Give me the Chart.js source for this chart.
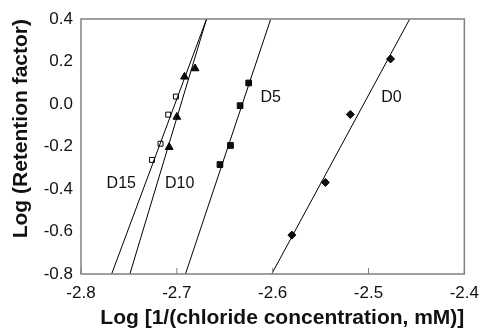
<!DOCTYPE html>
<html>
<head>
    <title>Retention factor vs chloride concentration</title>
    <script src="https://cdn.jsdelivr.net/npm/chart.js@4"></script>
    <style>
        body { margin: 0; background: #fff; }
        #wrap { width: 488px; height: 331px; }
    </style>
</head>
<body>
    <div id="wrap"><canvas id="chart"></canvas></div>
    <script>
        // points
        const d0X = [-2.580, -2.545, -2.519, -2.477];
        const d0Y = [-0.617, -0.369, -0.049, 0.212];
        const d5X = [-2.655, -2.644, -2.634, -2.625];
        const d5Y = [-0.285, -0.195, -0.008, 0.099];
        const d10X = [-2.708, -2.700, -2.692, -2.681];
        const d10Y = [-0.203, -0.061, 0.128, 0.167];
        const d15X = [-2.726, -2.717, -2.709, -2.701];
        const d15Y = [-0.263, -0.187, -0.050, 0.035];

        // fitted lines, ends at bottom and top of the plot
        const fitY = [-0.8, 0.4];
        const d0FitX = [-2.601, -2.457];
        const d5FitX = [-2.691, -2.602];
        const d10FitX = [-2.749, -2.669];
        const d15FitX = [-2.768, -2.669];

        // in-plot labels
        const labelNames = ['D15', 'D10', 'D5', 'D0'];
        const labelX = [-2.758, -2.697, -2.602, -2.476];
        const labelY = [-0.375, -0.375, 0.032, 0.032];

        const xTicks = [-2.8, -2.7, -2.6, -2.5, -2.4];

        function pts(xs, ys) {
            return xs.map((x, i) => ({ x: x, y: ys[i] }));
        }

        function fitSet(xs) {
            return {
                type: 'line',
                data: pts(xs, fitY),
                borderColor: '#000',
                borderWidth: 1,
                pointRadius: 0,
                showLine: true,
                fill: false
            };
        }

        function markSet(xs, ys, style, radius, fill) {
            return {
                type: 'scatter',
                data: pts(xs, ys),
                pointStyle: style,
                pointRadius: radius,
                pointBackgroundColor: fill,
                pointBorderColor: '#000',
                pointBorderWidth: 1
            };
        }

        // frame, inside ticks and the series names
        const extras = {
            id: 'extras',
            afterDraw(chart) {
                const ctx = chart.ctx;
                const a = chart.chartArea;
                const xs = chart.scales.x;
                const ys = chart.scales.y;
                ctx.save();
                ctx.strokeStyle = '#808080';
                ctx.lineWidth = 1.5;
                ctx.strokeRect(a.left, a.top, a.right - a.left, a.bottom - a.top);
                ctx.lineWidth = 1;
                xTicks.forEach(v => {
                    const px = xs.getPixelForValue(v);
                    ctx.beginPath();
                    ctx.moveTo(px, a.bottom);
                    ctx.lineTo(px, a.bottom - 6);
                    ctx.stroke();
                });
                ctx.fillStyle = '#111';
                ctx.font = '16px "Liberation Sans", Arial, sans-serif';
                ctx.textAlign = 'center';
                ctx.textBaseline = 'middle';
                labelNames.forEach((t, i) => {
                    ctx.fillText(t, xs.getPixelForValue(labelX[i]), ys.getPixelForValue(labelY[i]));
                });
                ctx.restore();
            }
        };

        const font = '"Liberation Sans", Arial, sans-serif';

        new Chart(document.getElementById('chart'), {
            data: {
                datasets: [
                    fitSet(d0FitX), fitSet(d5FitX), fitSet(d10FitX), fitSet(d15FitX),
                    markSet(d0X, d0Y, 'rectRot', 4, '#111'),
                    markSet(d5X, d5Y, 'rect', 4, '#111'),
                    markSet(d10X, d10Y, 'triangle', 4.5, '#111'),
                    markSet(d15X, d15Y, 'rect', 3.5, '#fff')
                ]
            },
            options: {
                responsive: true,
                maintainAspectRatio: false,
                animation: false,
                layout: { padding: { top: 19, right: 19, left: 0, bottom: 0 } },
                plugins: {
                    legend: { display: false },
                    tooltip: { enabled: false }
                },
                scales: {
                    x: {
                        type: 'linear',
                        min: -2.8,
                        max: -2.4,
                        afterBuildTicks: s => { s.ticks = xTicks.map(v => ({ value: v })); },
                        afterFit: s => { s.height = 57; },
                        grid: { display: false, drawTicks: false, tickLength: 0 },
                        border: { display: false },
                        ticks: {
                            padding: 9,
                            color: '#111',
                            maxRotation: 0,
                            font: { family: font, size: 17 },
                            callback: v => Number(v).toFixed(1)
                        },
                        title: {
                            display: true,
                            align: 'end',
                            text: 'Log [1/(chloride concentration, mM)]',
                            color: '#111',
                            padding: { top: 0, bottom: 0 },
                            font: { family: font, size: 21, weight: 'bold' }
                        }
                    },
                    y: {
                        type: 'linear',
                        min: -0.8,
                        max: 0.4,
                        afterFit: s => { s.width = 81; },
                        grid: { display: false, drawTicks: false, tickLength: 0 },
                        border: { display: false },
                        ticks: {
                            stepSize: 0.2,
                            padding: 8,
                            color: '#111',
                            font: { family: font, size: 17 },
                            callback: v => Number(v).toFixed(1)
                        },
                        title: {
                            display: true,
                            align: 'end',
                            text: 'Log (Retention factor)',
                            color: '#111',
                            padding: { top: 9, bottom: 0 },
                            font: { family: font, size: 21, weight: 'bold' }
                        }
                    }
                }
            },
            plugins: [extras]
        });
    </script>
</body>
</html>
